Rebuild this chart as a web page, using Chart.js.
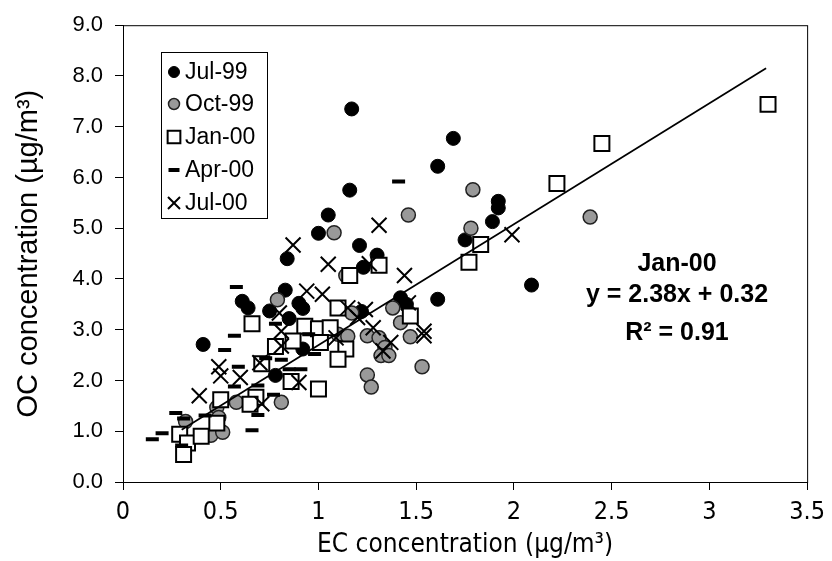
<!DOCTYPE html>
<html>
<head>
<meta charset="utf-8">
<script src="https://cdn.jsdelivr.net/npm/chart.js@4"></script>
<style>
  body { margin: 0; background: #fff; }
</style>
</head>
<body>
<canvas id="chart" width="832" height="561"></canvas>
<script>
// EC (x) vs OC (y), ug/m3
var jul99 = [[1.17,7.35],[1.69,6.77],[1.61,6.22],[1.16,5.75],[1.05,5.26],[1.00,4.90],[0.84,4.40],[1.21,4.66],[1.30,4.47],[1.23,4.23],[1.75,4.77],[1.89,5.13],[1.92,5.53],[1.92,5.40],[0.83,3.78],[1.42,3.63],[1.61,3.60],[0.61,3.56],[0.64,3.43],[0.75,3.37],[0.85,3.22],[0.90,3.52],[0.92,3.42],[1.22,3.36],[1.45,3.50],[0.41,2.71],[0.92,2.62],[0.78,2.10],[2.09,3.88]];
var oct99 = [[1.08,4.91],[1.46,5.26],[1.79,5.76],[1.14,4.07],[1.78,5.00],[2.39,5.22],[0.79,3.59],[1.17,3.33],[1.10,2.91],[1.15,2.87],[1.38,3.43],[1.42,3.14],[1.47,2.86],[1.53,2.27],[1.25,2.88],[1.31,2.84],[1.34,2.65],[1.32,2.49],[1.36,2.49],[1.25,2.11],[1.27,1.87],[0.58,1.57],[0.81,1.57],[0.48,1.47],[0.49,1.27],[0.32,1.19],[0.45,0.92],[0.51,0.98]];
var jan00 = [[3.30,7.44],[2.45,6.67],[2.22,5.88],[1.83,4.68],[1.77,4.33],[1.31,4.27],[1.16,4.07],[1.47,3.27],[0.66,3.12],[1.10,3.43],[0.93,3.07],[1.00,3.02],[1.06,3.04],[0.87,2.78],[0.78,2.67],[1.01,2.75],[1.14,2.62],[1.10,2.42],[0.71,2.33],[0.86,1.98],[1.00,1.83],[0.68,1.67],[0.65,1.53],[0.50,1.62],[0.48,1.16],[0.29,0.94],[0.33,0.77],[0.40,0.90],[0.31,0.54]];
var apr00 = [[1.41,5.92],[0.58,3.84],[0.57,2.88],[0.52,2.60],[0.78,3.12],[0.95,2.91],[0.98,2.52],[0.73,2.44],[0.81,2.41],[0.85,2.22],[0.91,2.22],[0.59,2.27],[0.57,1.88],[0.69,1.32],[0.77,1.72],[0.42,1.31],[0.27,1.36],[0.31,1.25],[0.20,0.96],[0.15,0.84],[0.30,0.72],[0.66,1.02],[0.69,1.90]];
var jul00 = [[1.31,5.06],[0.87,4.67],[1.05,4.29],[1.26,4.30],[1.44,4.07],[0.94,3.76],[1.02,3.70],[0.80,3.33],[1.15,3.43],[1.20,3.24],[1.24,3.40],[0.81,2.97],[0.81,2.68],[1.09,2.84],[0.70,2.35],[0.90,1.96],[0.49,2.27],[0.50,2.09],[0.60,2.06],[0.71,1.54],[0.39,1.70],[1.46,3.53],[1.54,2.97],[1.54,2.88],[1.28,3.04],[1.37,2.75],[1.33,2.58],[1.99,4.87]];
// Jan-00 trendline end points (y = 2.38x + 0.32)
var trendLine = [[0.30,1.03],[3.29,8.15]];

var seriesNames = ["Jul-99", "Oct-99", "Jan-00", "Apr-00", "Jul-00"];
var xTickLabels = ["0", "0.5", "1", "1.5", "2", "2.5", "3", "3.5"];
var yTickLabels = ["0.0", "1.0", "2.0", "3.0", "4.0", "5.0", "6.0", "7.0", "8.0", "9.0"];
var fitText = ["Jan-00", "y = 2.38x + 0.32", "R\u00b2 = 0.91"];

function pts(arr) {
  return arr.map(function (p) { return { x: p[0], y: p[1] }; });
}

var styles = [
  { pointStyle: "circle", radius: 7, bg: "#000", border: "#000", bw: 1, lr: 5.5 },
  { pointStyle: "circle", radius: 7, bg: "#999", border: "#222", bw: 1.5, lr: 5.5 },
  { pointStyle: "rect", radius: 10.6, bg: "#fff", border: "#000", bw: 2, lr: 9 },
  { pointStyle: "line", radius: 6.5, bg: "#000", border: "#000", bw: 4, lr: 5.5 },
  { pointStyle: "crossRot", radius: 10.6, bg: "#000", border: "#000", bw: 2, lr: 8.5 }
];
var seriesData = [jul99, oct99, jan00, apr00, jul00];

var datasets = seriesData.map(function (d, i) {
  var s = styles[i];
  return {
    label: seriesNames[i],
    data: pts(d),
    showLine: false,
    pointStyle: s.pointStyle,
    pointRadius: s.radius,
    pointHoverRadius: s.radius,
    pointBackgroundColor: s.bg,
    pointBorderColor: s.border,
    pointBorderWidth: s.bw,
    order: 5 - i
  };
});
datasets.push({
  label: "trend",
  data: pts(trendLine),
  showLine: true,
  borderColor: "#000",
  borderWidth: 1.75,
  pointRadius: 0,
  order: 0
});

// frame around the plot area
var frame = {
  id: "frame",
  afterDraw: function (chart) {
    var a = chart.chartArea, ctx = chart.ctx;
    ctx.save();
    ctx.strokeStyle = "#000";
    ctx.lineWidth = 1;
    ctx.strokeRect(a.left + 0.5, a.top + 0.5, a.right - a.left, a.bottom - a.top);
    ctx.restore();
  }
};

// legend box and fit equation
var extras = {
  id: "extras",
  afterDraw: function (chart) {
    var ctx = chart.ctx;
    ctx.save();
    ctx.fillStyle = "#fff";
    ctx.fillRect(161, 52, 106, 166);
    ctx.strokeStyle = "#000";
    ctx.lineWidth = 1;
    ctx.strokeRect(161.5, 52.5, 106, 166);
    var rowY = [72, 104, 137, 170, 203];
    for (var i = 0; i < seriesNames.length; i++) {
      var s = styles[i];
      ctx.fillStyle = s.bg;
      ctx.strokeStyle = s.border;
      ctx.lineWidth = s.bw;
      Chart.helpers.drawPoint(ctx, { pointStyle: s.pointStyle, radius: s.lr, rotation: 0, borderWidth: s.bw }, 174, rowY[i]);
      ctx.fillStyle = "#000";
      ctx.font = "23px 'Liberation Sans', Arial, sans-serif";
      ctx.textAlign = "left";
      ctx.textBaseline = "middle";
      ctx.fillText(seriesNames[i], 185, rowY[i] + 1);
    }
    ctx.font = "bold 25px 'Liberation Sans', Arial, sans-serif";
    ctx.textAlign = "center";
    ctx.fillText(fitText[0], 677, 264);
    ctx.fillText(fitText[1], 677, 295);
    ctx.fillText(fitText[2], 677, 333);
    ctx.restore();
  }
};

new Chart(document.getElementById("chart"), {
  type: "scatter",
  data: { datasets: datasets },
  plugins: [frame, extras],
  options: {
    responsive: false,
    animation: false,
    layout: { padding: { left: 0, top: 22, right: 20, bottom: 0 } },
    plugins: {
      legend: { display: false },
      tooltip: { enabled: false }
    },
    scales: {
      x: {
        type: "linear",
        min: 0,
        max: 3.5,
        afterFit: function (scale) { scale.height = 79; },
        ticks: {
          stepSize: 0.5,
          color: "#000",
          padding: 7,
          maxRotation: 0,
          font: { family: "'Liberation Sans Narrow', 'DejaVu Sans Condensed', sans-serif", size: 25 },
          callback: function (v, i) { return xTickLabels[i]; }
        },
        grid: { drawOnChartArea: false, drawTicks: true, tickLength: 8, color: "#000" },
        border: { display: true, color: "#000" },
        title: {
          display: true,
          text: "EC concentration (\u00b5g/m\u00b3)",
          color: "#000",
          padding: { top: 0, bottom: 0 },
          font: { family: "'Liberation Sans Narrow', 'DejaVu Sans Condensed', sans-serif", size: 26 }
        }
      },
      y: {
        min: 0,
        max: 9,
        afterFit: function (scale) { scale.width = 123; },
        ticks: {
          stepSize: 1,
          color: "#000",
          padding: 12,
          font: { family: "'Liberation Sans', Arial, sans-serif", size: 22 },
          callback: function (v, i) { return yTickLabels[i]; }
        },
        grid: { drawOnChartArea: false, drawTicks: true, tickLength: 8, color: "#000" },
        border: { display: true, color: "#000" },
        title: {
          display: true,
          text: "OC concentration (\u00b5g/m\u00b3)",
          color: "#000",
          padding: { top: 12, bottom: 0 },
          font: { family: "'Liberation Sans', Arial, sans-serif", size: 29 }
        }
      }
    }
  }
});
</script>
</body>
</html>
